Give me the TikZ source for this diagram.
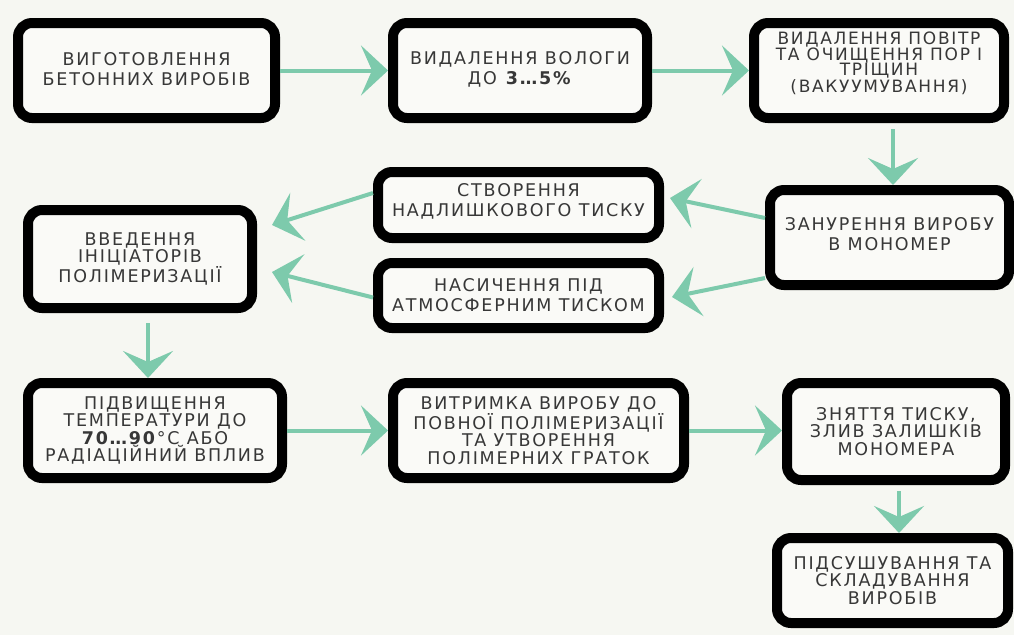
\documentclass[tikz,border=0pt]{standalone}
\usepackage{fontspec}
\usetikzlibrary{arrows.meta}
\newfontfamily\boxfont[LetterSpace=10]{DejaVu Sans}
\definecolor{pagebg}{RGB}{246,247,242}
\definecolor{boxbg}{RGB}{250,250,247}
\definecolor{flowcol}{RGB}{125,202,172}
\definecolor{txtgray}{RGB}{55,55,55}
\tikzset{
  box/.style={draw=black, line width=10pt, rounded corners=14pt, fill=boxbg,
    align=center, inner sep=0pt, text=txtgray,
    font=\boxfont\fontsize{17.5}{20}\selectfont},
  tight/.style={font=\boxfont\fontsize{17.5}{17.5}\selectfont},
  flow/.style={draw=flowcol, line width=4pt,
    -{Stealth[length=27pt,width=50pt,inset=11pt]}}
}
\begin{document}
\begin{tikzpicture}[x=1pt,y=-1pt]
\fill[pagebg] (0,0) rectangle (1014,635);
\useasboundingbox (0,0) rectangle (1014,635);

\node[box, minimum width=257pt, minimum height=95pt] (b1) at (146.5,70.5)
  {\mbox{}\\[-10pt]ВИГОТОВЛЕННЯ\\БЕТОННИХ ВИРОБІВ};
\node[box, minimum width=254pt, minimum height=95pt] (b2) at (520,70.5)
  {\mbox{}\\[-10pt]ВИДАЛЕННЯ ВОЛОГИ\\ДО \textbf{3…5\%}};
\node[box, minimum width=250pt, minimum height=95pt,
  font=\boxfont\fontsize{17}{15.5}\selectfont] (b3) at (879,70.5)
  {ВИДАЛЕННЯ ПОВІТР\\ТА ОЧИЩЕННЯ ПОР І\\ТРІЩИН\\(ВАКУУМУВАННЯ)\\[1pt]\mbox{}};
\node[box, minimum width=281pt, minimum height=66pt] (b4) at (518.5,205)
  {СТВОРЕННЯ\\НАДЛИШКОВОГО ТИСКУ\\[-10pt]\mbox{}};
\node[box, minimum width=281pt, minimum height=65pt] (b5) at (518.5,295.5)
  {НАСИЧЕННЯ ПІД\\АТМОСФЕРНИМ ТИСКОМ};
\node[box, minimum width=239pt, minimum height=95pt] (b6) at (889.5,237.5)
  {\mbox{}\\[-14pt]ЗАНУРЕННЯ ВИРОБУ\\В МОНОМЕР};
\node[box, tight, minimum width=224pt, minimum height=98pt] (b7) at (140,259)
  {ВВЕДЕННЯ\\ІНІЦІАТОРІВ\\ПОЛІМЕРИЗАЦІЇ};
\node[box, tight, minimum width=254pt, minimum height=95pt] (b8) at (155,430.5)
  {ПІДВИЩЕННЯ\\ТЕМПЕРАТУРИ ДО\\\textbf{70…90}°С АБО\\РАДІАЦІЙНИЙ ВПЛИВ};
\node[box, tight, minimum width=291pt, minimum height=95pt] (b9) at (538.5,430.5)
  {ВИТРИМКА ВИРОБУ ДО\\ПОВНОЇ ПОЛІМЕРИЗАЦІЇ\\ТА УТВОРЕННЯ\\ПОЛІМЕРНИХ ГРАТОК};
\node[box, tight, minimum width=218pt, minimum height=97pt] (b10) at (896,431.5)
  {ЗНЯТТЯ ТИСКУ,\\ЗЛИВ ЗАЛИШКІВ\\МОНОМЕРА};
\node[box, tight, minimum width=231pt, minimum height=85pt] (b11) at (892.5,580.5)
  {ПІДСУШУВАННЯ ТА\\СКЛАДУВАННЯ\\ВИРОБІВ};

\draw[flow] (b1) -- (b2);
\draw[flow] (b2) -- (b3);
\draw[flow, shorten <=6pt] ([xshift=14pt]b3.south) -- ([xshift=14pt]b3.south |- b6.north);
\draw[flow] ([yshift=19.5pt]b6.west) -- ([xshift=6pt,yshift=7pt]b4.east);
\draw[flow] ([yshift=-40.5pt]b6.west) -- ([xshift=8pt,yshift=-1.5pt]b5.east);
\draw[flow] ([yshift=12pt]b4.west) -- ([xshift=15pt,yshift=34pt]b7.east);
\draw[flow] ([yshift=-2pt]b5.west) -- ([xshift=15pt,yshift=-13pt]b7.east);
\draw[flow, shorten <=10pt] ([xshift=8pt]b7.south) -- ([xshift=8pt]b7.south |- b8.north);
\draw[flow] (b8) -- (b9);
\draw[flow] (b9.east) -- (b9.east -| b10.west);
\draw[flow, shorten <=6pt] ([xshift=3pt]b10.south) -- ([xshift=3pt]b10.south |- b11.north);
\end{tikzpicture}
\end{document}
